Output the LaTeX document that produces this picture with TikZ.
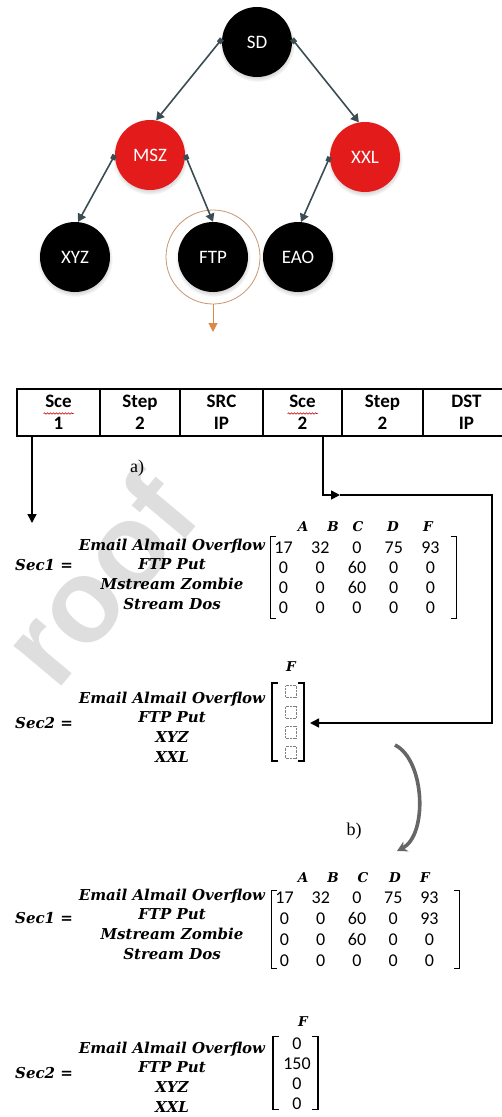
\documentclass[tikz,border=0pt]{standalone}
\usepackage{fontspec}
\usepackage{tikz}
\usetikzlibrary{arrows.meta, shadows, decorations.pathmorphing, matrix}
\newfontfamily\nodefont{Carlito}
\newfontfamily\eqfont{DejaVu Serif}
\newfontfamily\capfont{Liberation Serif}
\newfontfamily\markfont{Liberation Sans}
\definecolor{rbred}{HTML}{E41B1B}
\definecolor{edgegray}{HTML}{3B4D52}
\definecolor{ringtan}{HTML}{C99570}
\definecolor{pickorange}{HTML}{D98A4A}
\definecolor{wmgray}{HTML}{DEDEDE}

\begin{document}
\begin{tikzpicture}[x=1pt, y=-1pt,
  tnode/.style={circle, fill=black, text=white, minimum size=70pt, inner sep=0pt,
                font=\nodefont\fontsize{19}{19}\selectfont,
                circular drop shadow={shadow xshift=0pt, shadow yshift=-2pt, shadow scale=1.08, opacity=.35}},
  rnode/.style={tnode, fill=rbred},
  tedge/.style={edgegray, line width=1.6pt,
                {Square[length=5pt,width=5pt]}-{Triangle[length=8pt,width=9pt]}},
  cell/.style={draw, line width=1.6pt, minimum height=47pt, inner sep=0pt, align=center,
               font=\nodefont\bfseries\fontsize{19}{22}\selectfont},
  squiggle/.style={red!80!black, line width=.6pt, decorate,
                   decoration={snake, amplitude=.7pt, segment length=3pt}},
  flow/.style={line width=1.6pt, -{Triangle[length=9pt,width=9pt]}},
  lbl/.style={font=\eqfont\bfseries\itshape\fontsize{15}{19.7}\selectfont, align=center, inner sep=0pt},
  hdr/.style={font=\eqfont\bfseries\itshape\fontsize{13.5}{13.5}\selectfont, inner sep=0pt},
  num/.style={font=\nodefont\fontsize{18}{18}\selectfont, inner sep=0pt, text height=12pt, text depth=0pt},
  bracket/.style={line width=1.3pt},
  ph/.style={draw=gray, densely dotted, minimum width=11pt, minimum height=12pt, inner sep=0pt},
  caption/.style={font=\capfont\fontsize{18}{18}\selectfont},
  turnarrow/.style={line width=3.6pt, black!60, -{Stealth[length=10pt,width=11pt]}},
]

\useasboundingbox (0,0) rectangle (502,1117);
\clip (0,0) rectangle (502,1117);

% watermark
\node[font=\markfont\bfseries\fontsize{118}{118}\selectfont, text=wmgray, rotate=50] (mark) at (98,578) {roof};

% tree
\node[tnode] (sd) at (257,42) {SD};
\node[rnode] (msz) at (150,155) {MSZ};
\node[rnode] (xxl) at (365,157) {XXL};
\node[tnode] (xyz) at (75,257) {XYZ};
\node[tnode] (ftp) at (213,257) {FTP};
\node[tnode] (eao) at (298,257) {EAO};
\node[circle, draw=ringtan, line width=.8pt, minimum size=94pt] (pick) at (ftp) {};

\draw[tedge] (sd.175) -- (msz.80);
\draw[tedge] (sd.5) -- (xxl.100);
\draw[tedge] (msz.180) -- (xyz.85);
\draw[tedge] (msz.0) -- (ftp.90);
\draw[tedge] (xxl.180) -- (eao.85);

\coordinate (pickend) at (213,332);
\draw[pickorange, line width=1pt, -{Triangle[length=9pt,width=9pt]}] (pick.south) -- (pickend);

% packet fields
\node[cell, minimum width=83pt] (c1) at (58.5,412.5) {Sce\\1};
\node[cell, minimum width=80pt] (c2) at (140,412.5) {Step\\2};
\node[cell, minimum width=83pt] (c3) at (221.5,412.5) {SRC\\IP};
\node[cell, minimum width=79pt] (c4) at (302.5,412.5) {Sce\\2};
\node[cell, minimum width=81pt] (c5) at (382.5,412.5) {Step\\2};
\node[cell, minimum width=87pt] (c6) at (466.5,412.5) {DST\\IP};
\draw[squiggle] ([shift={(-15pt,-1pt)}]c1.center) -- ([shift={(15pt,-1pt)}]c1.center);
\draw[squiggle] ([shift={(-15pt,-1pt)}]c4.center) -- ([shift={(15pt,-1pt)}]c4.center);

\coordinate (s1end) at (32,523);
\draw[flow] (c1.south -| s1end) -- (s1end);
\coordinate (turn) at (340,495);
\coordinate (rim) at (492,495);
\coordinate (slot) at (310,723);
\draw[flow] ([xshift=20.5pt]c4.south) |- (turn);
\draw[flow] (turn) -- (rim) |- (slot);

\node[caption] (capa) at (137,468) {a)};
\node[caption] (capb) at (354,831) {b)};

% Sec1 before
\node[lbl, anchor=west] (eq1) at (15,565) {Sec1 =};
\node[lbl] (lab1) at (172,574) {Email Almail Overflow\\FTP Put\\Mstream Zombie\\Stream Dos};
\node[hdr] (h1a) at (303,527) {A};
\node[hdr] (h1b) at (333,527) {B};
\node[hdr] (h1c) at (358,527) {C};
\node[hdr] (h1d) at (393,527) {D};
\node[hdr] (h1f) at (428,527) {F};
\matrix (m1) [matrix of nodes, nodes=num, column sep=18.5pt, row sep=8pt, inner sep=0pt] at (357,577) {
  17 & 32 & 0 & 75 & 93 \\
  0 & 0 & 60 & 0 & 0 \\
  0 & 0 & 60 & 0 & 0 \\
  0 & 0 & 0 & 0 & 0 \\
};
\draw[bracket] ([shift={(2pt,4pt)}]m1.north west) -- ([shift={(-4pt,4pt)}]m1.north west)
  -- ([shift={(-4pt,-5pt)}]m1.south west) -- ([shift={(2pt,-5pt)}]m1.south west);
\draw[bracket] ([shift={(11pt,4pt)}]m1.north east) -- ([shift={(17pt,4pt)}]m1.north east)
  -- ([shift={(17pt,-5pt)}]m1.south east) -- ([shift={(11pt,-5pt)}]m1.south east);

% Sec2 before
\node[lbl, anchor=west] (eq2) at (15,723) {Sec2 =};
\node[lbl] (lab2) at (172,727) {Email Almail Overflow\\FTP Put\\XYZ\\XXL};
\node[hdr] (h2f) at (291,667) {F};
\matrix (m2) [matrix of nodes, nodes in empty cells, row sep=8pt, inner sep=0pt] at (291,722) {
  |[ph]| \\
  |[ph]| \\
  |[ph]| \\
  |[ph]| \\
};
\draw[bracket] ([shift={(-7pt,2pt)}]m2.north west) -- ([shift={(-13pt,2pt)}]m2.north west)
  -- ([shift={(-13pt,-2pt)}]m2.south west) -- ([shift={(-7pt,-2pt)}]m2.south west);
\draw[bracket] ([shift={(1pt,2pt)}]m2.north east) -- ([shift={(7pt,2pt)}]m2.north east)
  -- ([shift={(7pt,-2pt)}]m2.south east) -- ([shift={(1pt,-2pt)}]m2.south east);

\coordinate (bend1) at (395,745);
\coordinate (bend2) at (397,851);
\draw[turnarrow] (bend1) .. controls (425,760) and (428,835) .. (bend2);

% Sec1 after
\node[lbl, anchor=west] (eq3) at (15,918) {Sec1 =};
\node[lbl] (lab3) at (172,924) {Email Almail Overflow\\FTP Put\\Mstream Zombie\\Stream Dos};
\node[hdr] (h3a) at (303,878) {A};
\node[hdr] (h3b) at (333,878) {B};
\node[hdr] (h3c) at (363,878) {C};
\node[hdr] (h3d) at (395,878) {D};
\node[hdr] (h3f) at (425,878) {F};
\matrix (m3) [matrix of nodes, nodes=num, column sep=18pt, row sep=8.7pt, inner sep=0pt] at (357,929) {
  17 & 32 & 0 & 75 & 93 \\
  0 & 0 & 60 & 0 & 93 \\
  0 & 0 & 60 & 0 & 0 \\
  0 & 0 & 0 & 0 & 0 \\
};
\draw[bracket] ([shift={(2pt,1pt)}]m3.north west) -- ([shift={(-4pt,1pt)}]m3.north west)
  -- ([shift={(-4pt,-2pt)}]m3.south west) -- ([shift={(2pt,-2pt)}]m3.south west);
\draw[bracket] ([shift={(15pt,1pt)}]m3.north east) -- ([shift={(21pt,1pt)}]m3.north east)
  -- ([shift={(21pt,-2pt)}]m3.south east) -- ([shift={(15pt,-2pt)}]m3.south east);

% Sec2 after
\node[lbl, anchor=west] (eq4) at (15,1073) {Sec2 =};
\node[lbl] (lab4) at (172,1077) {Email Almail Overflow\\FTP Put\\XYZ\\XXL};
\node[hdr] (h4f) at (303,1022) {F};
\matrix (m4) [matrix of nodes, nodes=num, row sep=8pt, inner sep=0pt] at (297,1073) {
  0 \\
  150 \\
  0 \\
  0 \\
};
\draw[bracket] ([shift={(-4pt,0pt)}]m4.north west) -- ([shift={(-10pt,0pt)}]m4.north west)
  -- ([shift={(-10pt,0pt)}]m4.south west) -- ([shift={(-4pt,0pt)}]m4.south west);
\draw[bracket] ([shift={(1pt,0pt)}]m4.north east) -- ([shift={(7pt,0pt)}]m4.north east)
  -- ([shift={(7pt,0pt)}]m4.south east) -- ([shift={(1pt,0pt)}]m4.south east);

\end{tikzpicture}
\end{document}
